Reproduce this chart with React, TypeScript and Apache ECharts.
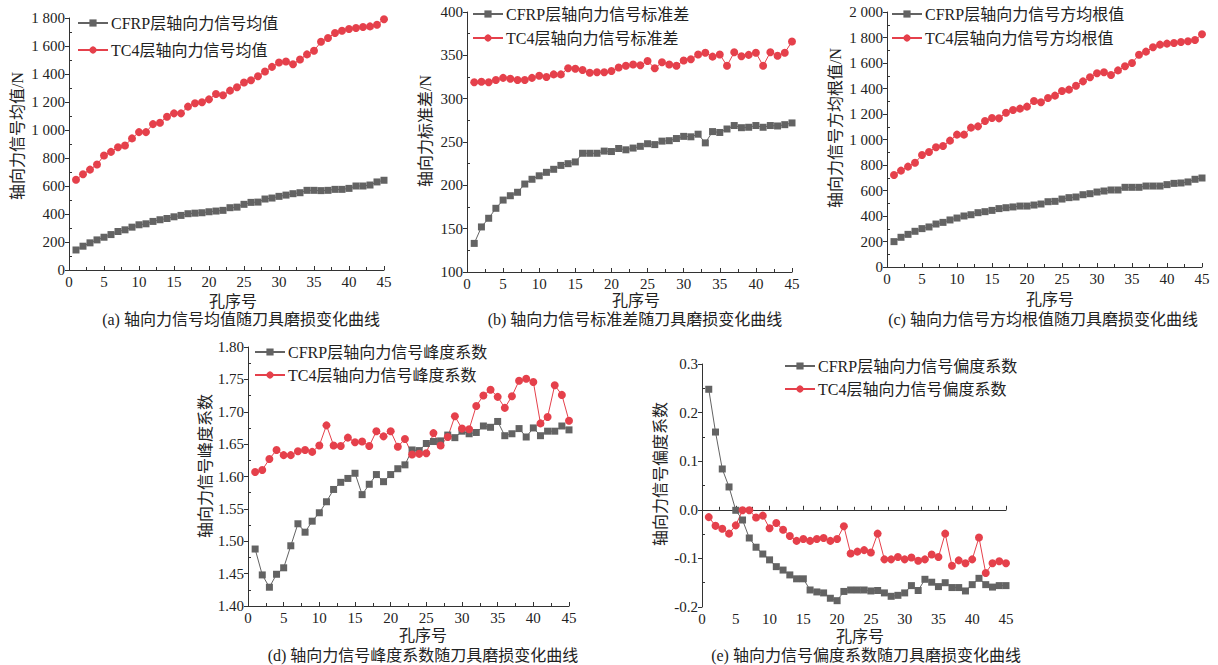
import React, { useEffect, useRef } from "react";
import * as echarts from "echarts";

const holes: number[] = Array.from({ length: 45 }, (_, i) => i + 1);

const cfrpMean = [143,170,194,215,234,253,275,287,306,323,330,347,359,368,380,390,402,406,409,416,421,426,445,449,469,483,485,507,514,526,535,545,552,569,569,567,569,576,576,583,600,600,607,629,641];
const tc4Mean = [645,684,717,753,818,844,877,889,940,985,985,1042,1052,1095,1119,1119,1167,1191,1198,1219,1257,1248,1281,1305,1339,1355,1384,1418,1451,1482,1489,1470,1504,1540,1566,1630,1657,1693,1709,1721,1728,1736,1740,1752,1791];

const cfrpStd = [133,152,162,173.5,183,188,192,201.5,207,211,215,218.5,223,225,227,237,237,237,239.5,239,242.5,241,243,245,248,247,251,251.5,254,256.5,256,259,249,262,261,265,269,266.5,267,269,267,269,268.5,270,272];
const tc4Std = [319,319.5,319,321.5,324,323,321.5,321.5,324,326.5,325,328,328,335,334.5,333,330,330.5,330.5,332,336,338,339.5,338.5,343.5,335,342,339.5,338,344,345.5,351,353,348.5,351,338,353.5,349,350.5,353,338,353.5,349.5,353,366];

const cfrpRms = [199,233,256,280,301,314,337,350,369,384,400,410,426,434,444,458,465,471,478,478,486,494,512,515,533,544,549,567,575,588,596,604,604,625,625,625,635,635,635,646,656,659,667,688,698];
const tc4Rms = [722,756,787,818,878,902,939,949,991,1038,1038,1093,1103,1145,1169,1166,1210,1231,1242,1258,1302,1292,1325,1344,1380,1391,1422,1456,1488,1519,1527,1506,1542,1574,1600,1665,1689,1723,1744,1752,1757,1765,1770,1780,1825];

const cfrpKurt = [1.488,1.448,1.429,1.449,1.459,1.493,1.527,1.514,1.531,1.544,1.561,1.580,1.591,1.597,1.605,1.572,1.588,1.603,1.592,1.603,1.612,1.618,1.641,1.640,1.651,1.654,1.655,1.664,1.660,1.670,1.666,1.668,1.678,1.676,1.685,1.663,1.666,1.674,1.661,1.675,1.663,1.670,1.670,1.678,1.672];
const tc4Kurt = [1.607,1.610,1.627,1.641,1.633,1.633,1.639,1.641,1.638,1.648,1.679,1.648,1.647,1.660,1.653,1.654,1.647,1.670,1.662,1.670,1.646,1.658,1.634,1.635,1.636,1.667,1.648,1.661,1.693,1.674,1.673,1.709,1.725,1.734,1.723,1.706,1.724,1.748,1.751,1.746,1.682,1.692,1.741,1.726,1.686];

const cfrpSkew = [0.248,0.160,0.084,0.047,-0.001,-0.021,-0.058,-0.077,-0.091,-0.103,-0.117,-0.124,-0.134,-0.142,-0.142,-0.165,-0.169,-0.171,-0.182,-0.187,-0.168,-0.165,-0.165,-0.165,-0.167,-0.166,-0.171,-0.178,-0.176,-0.171,-0.156,-0.166,-0.143,-0.149,-0.158,-0.150,-0.160,-0.160,-0.167,-0.154,-0.141,-0.154,-0.159,-0.156,-0.156];
const tc4Skew = [-0.015,-0.033,-0.039,-0.049,-0.032,-0.001,-0.001,-0.016,-0.012,-0.038,-0.027,-0.041,-0.054,-0.064,-0.060,-0.064,-0.060,-0.058,-0.064,-0.060,-0.034,-0.090,-0.086,-0.083,-0.088,-0.049,-0.102,-0.102,-0.097,-0.102,-0.098,-0.105,-0.102,-0.092,-0.097,-0.049,-0.115,-0.104,-0.110,-0.102,-0.057,-0.130,-0.110,-0.106,-0.110];

const cfrpNames = ["CFRP层轴向力信号均值", "CFRP层轴向力信号标准差", "CFRP层轴向力信号方均根值", "CFRP层轴向力信号峰度系数", "CFRP层轴向力信号偏度系数"];
const tc4Names = ["TC4层轴向力信号均值", "TC4层轴向力信号标准差", "TC4层轴向力信号方均根值", "TC4层轴向力信号峰度系数", "TC4层轴向力信号偏度系数"];
const yNames = ["轴向力信号均值/N", "轴向力标准差/N", "轴向力信号方均根值/N", "轴向力信号峰度系数", "轴向力信号偏度系数"];
const captions = [
  "(a) 轴向力信号均值随刀具磨损变化曲线",
  "(b) 轴向力信号标准差随刀具磨损变化曲线",
  "(c) 轴向力信号方均根值随刀具磨损变化曲线",
  "(d) 轴向力信号峰度系数随刀具磨损变化曲线",
  "(e) 轴向力信号偏度系数随刀具磨损变化曲线",
];
const xName = "孔序号";
const yMins = [0, 100, 0, 1.4, -0.2];
const yMaxs = [1800, 400, 2000, 1.8, 0.3];
const yIntervals = [200, 50, 200, 0.05, 0.1];

const FONT = '"Liberation Serif", "Times New Roman", "Noto Sans CJK SC", serif';
const GRAY = "#636363";
const RED = "#e5404b";
const TXT = "#222";

// layout (pixels)
const grids = [
  { left: 69, top: 18, width: 315, height: 252 },
  { left: 467, top: 12, width: 325, height: 260 },
  { left: 887, top: 12, width: 315, height: 255 },
  { left: 248, top: 347, width: 321, height: 259 },
  { left: 702, top: 364, width: 304, height: 243 },
];
const legendPos = [
  { left: 77, top: 15, gap: 11 },
  { left: 472, top: 6, gap: 8 },
  { left: 891, top: 6, gap: 8 },
  { left: 254, top: 344, gap: 7 },
  { left: 784, top: 358, gap: 7 },
];
const yNamePos = [
  [17, 136], [425, 131], [835, 128], [205, 466], [660, 474],
];
const xNamePos = [
  [233, 301], [636, 300], [1050, 299], [423, 635], [860, 636],
];
const captionPos = [
  [241, 319], [635, 319], [1043, 319], [423, 655], [866, 655],
];

function fmtThousands(v: number) {
  const s = String(Math.round(v));
  return s.replace(/\B(?=(\d{3})+(?!\d))/g, " ");
}

export default function App() {
  const ref = useRef<HTMLDivElement>(null);
  useEffect(() => {
    if (!ref.current) return;
    const chart = echarts.init(ref.current, undefined, { renderer: "svg" });
    const cf = [cfrpMean, cfrpStd, cfrpRms, cfrpKurt, cfrpSkew];
    const tc = [tc4Mean, tc4Std, tc4Rms, tc4Kurt, tc4Skew];
    const formatters = [
      (v: number) => fmtThousands(v),
      (v: number) => String(Math.round(v)),
      (v: number) => fmtThousands(v),
      (v: number) => v.toFixed(2),
      (v: number) => v.toFixed(1),
    ];

    const xAxes: any[] = [];
    const yAxes: any[] = [];
    const series: any[] = [];
    const legends: any[] = [];
    const graphics: any[] = [];

    for (let i = 0; i < 5; i++) {
      xAxes.push({
        type: "value",
        gridIndex: i,
        min: 0,
        max: 45,
        interval: 5,
        axisLine: { show: true, lineStyle: { color: "#333", width: 1 } },
        axisTick: { show: true, inside: true, length: 4, lineStyle: { color: "#333" } },
        minorTick: { show: true, splitNumber: 2, length: 3, lineStyle: { color: "#333" } },
        splitLine: { show: false },
        axisLabel: { fontFamily: FONT, fontSize: 15, color: TXT, margin: 4 },
      });
      yAxes.push({
        type: "value",
        gridIndex: i,
        position: "left",
        min: yMins[i],
        max: yMaxs[i],
        interval: yIntervals[i],
        axisLine: { show: true, lineStyle: { color: "#333", width: 1 } },
        axisTick: { show: true, inside: false, length: 4, lineStyle: { color: "#333" } },
        splitLine: { show: false },
        axisLabel: { fontFamily: FONT, fontSize: 15, color: TXT, margin: 4, formatter: formatters[i] },
      });
      yAxes.push({
        type: "value",
        gridIndex: i,
        position: "left",
        min: yMins[i],
        max: yMaxs[i],
        interval: yIntervals[i],
        axisLine: { show: false },
        axisTick: { show: false, inside: true },
        minorTick: { show: true, splitNumber: 2, length: 3, lineStyle: { color: "#333" } },
        splitLine: { show: false },
        axisLabel: { show: false },
      });
      series.push({
        name: cfrpNames[i],
        type: "line",
        xAxisIndex: i,
        yAxisIndex: 2 * i,
        data: holes.map((h, k) => [h, cf[i][k]]),
        symbol: "rect",
        symbolSize: 7,
        itemStyle: { color: GRAY },
        lineStyle: { color: GRAY, width: 1 },
      });
      series.push({
        name: tc4Names[i],
        type: "line",
        xAxisIndex: i,
        yAxisIndex: 2 * i,
        data: holes.map((h, k) => [h, tc[i][k]]),
        symbol: "circle",
        symbolSize: 8,
        itemStyle: { color: RED },
        lineStyle: { color: RED, width: 1 },
      });
      legends.push({
        data: [cfrpNames[i], tc4Names[i]],
        orient: "vertical",
        left: legendPos[i].left,
        top: legendPos[i].top,
        itemGap: legendPos[i].gap,
        itemWidth: 30,
        itemHeight: 9,
        padding: 0,
        textStyle: { fontFamily: FONT, fontSize: 16, color: TXT, padding: [0, 0, 0, -2] },
      });
      graphics.push({
        type: "text",
        x: yNamePos[i][0],
        y: yNamePos[i][1],
        rotation: Math.PI / 2,
        style: { text: yNames[i], font: `16px ${FONT}`, fill: TXT, align: "center", verticalAlign: "middle" },
      });
      graphics.push({
        type: "text",
        x: xNamePos[i][0],
        y: xNamePos[i][1],
        style: { text: xName, font: `16px ${FONT}`, fill: TXT, align: "center", verticalAlign: "middle" },
      });
      graphics.push({
        type: "text",
        x: captionPos[i][0],
        y: captionPos[i][1],
        style: { text: captions[i], font: `16px ${FONT}`, fill: TXT, align: "center", verticalAlign: "middle" },
      });
    }

    chart.setOption({
      animation: false,
      backgroundColor: "#fff",
      grid: grids.map((g) => ({ ...g, containLabel: false })),
      xAxis: xAxes,
      yAxis: yAxes,
      legend: legends,
      series,
      graphic: graphics,
    });
    return () => chart.dispose();
  }, []);
  return (
    <div
      ref={ref}
      style={{ position: "absolute", left: 0, top: 0, width: 1218, height: 665, background: "#fff" }}
    />
  );
}
